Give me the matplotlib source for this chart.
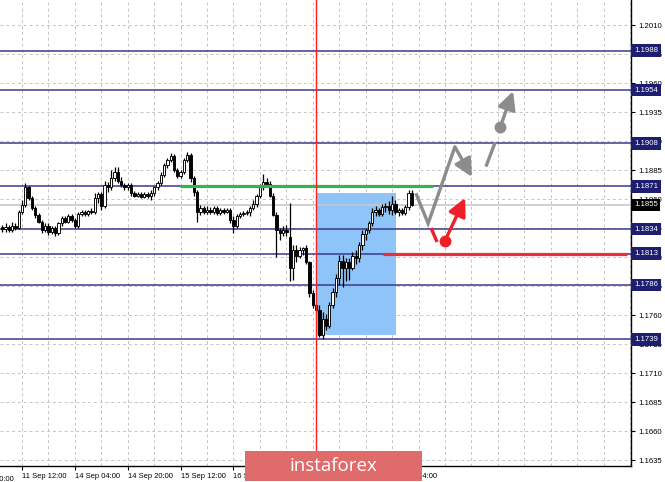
import matplotlib
matplotlib.use("Agg")
import matplotlib.pyplot as plt
from matplotlib.patches import Rectangle
import numpy as np

# ---------------- data ----------------
opens = [1.1836, 1.1834, 1.1836, 1.1833, 1.1837, 1.1835, 1.1849, 1.1855, 1.1870, 1.1861,
         1.1852, 1.1846, 1.1840, 1.1833, 1.1837, 1.1832, 1.1835, 1.1831, 1.1839, 1.1844,
         1.1840, 1.1845, 1.1842, 1.1837, 1.1847, 1.1849, 1.1847, 1.1850, 1.1849, 1.1861,
         1.1864, 1.1854, 1.1872, 1.1870, 1.1878, 1.1883, 1.1876, 1.1872, 1.1870, 1.1872,
         1.1865, 1.1863, 1.1864, 1.1862, 1.1864, 1.1863, 1.1865, 1.1870, 1.1874, 1.1881,
         1.1889, 1.1894, 1.1897, 1.1885, 1.1880, 1.1883, 1.1894, 1.1898, 1.1878, 1.1866,
         1.1849, 1.1852, 1.1849, 1.1851, 1.1849, 1.1852, 1.1848, 1.1851, 1.1849, 1.1851,
         1.1842, 1.1837, 1.1845, 1.1847, 1.1848, 1.1849, 1.1852, 1.1856, 1.1863, 1.1871,
         1.1875, 1.1873, 1.1863, 1.1846, 1.1833, 1.1831, 1.1833, 1.1827, 1.1801, 1.1816,
         1.1811, 1.1816, 1.1818, 1.1806, 1.1779, 1.1769, 1.1764, 1.1743, 1.1757, 1.1751,
         1.1769, 1.1780, 1.1792, 1.1807, 1.1801, 1.1806, 1.1801, 1.1811, 1.1809, 1.1820,
         1.1830, 1.1833, 1.1839, 1.1849, 1.1851, 1.1847, 1.1853, 1.1854, 1.1851, 1.1856,
         1.1849, 1.1851, 1.1848, 1.1853, 1.1865]
highs = [1.1838, 1.1839, 1.1838, 1.1840, 1.1839, 1.1851, 1.1859, 1.1874, 1.1871, 1.1863,
         1.1854, 1.1848, 1.1842, 1.1839, 1.1839, 1.1837, 1.1837, 1.1840, 1.1845, 1.1845,
         1.1847, 1.1847, 1.1844, 1.1849, 1.1851, 1.1851, 1.1851, 1.1852, 1.1865, 1.1866,
         1.1866, 1.1876, 1.1875, 1.1885, 1.1888, 1.1888, 1.1879, 1.1874, 1.1874, 1.1874,
         1.1867, 1.1866, 1.1866, 1.1866, 1.1866, 1.1868, 1.1871, 1.1876, 1.1883, 1.1891,
         1.1895, 1.1900, 1.1899, 1.1887, 1.1885, 1.1895, 1.1901, 1.1900, 1.1880, 1.1868,
         1.1855, 1.1854, 1.1854, 1.1853, 1.1854, 1.1854, 1.1852, 1.1852, 1.1852, 1.1852,
         1.1845, 1.1847, 1.1849, 1.1850, 1.1851, 1.1854, 1.1859, 1.1864, 1.1873, 1.1882,
         1.1878, 1.1876, 1.1865, 1.1849, 1.1835, 1.1837, 1.1838, 1.1857, 1.1820, 1.1820,
         1.1819, 1.1819, 1.1820, 1.1807, 1.1782, 1.1770, 1.1769, 1.1763, 1.1761, 1.1771,
         1.1783, 1.1795, 1.1812, 1.1812, 1.1809, 1.1809, 1.1814, 1.1816, 1.1823, 1.1833,
         1.1835, 1.1841, 1.1852, 1.1854, 1.1852, 1.1856, 1.1857, 1.1858, 1.1863, 1.1859,
         1.1852, 1.1852, 1.1855, 1.1868, 1.1868]
lows = [1.1832, 1.1832, 1.1832, 1.1832, 1.1833, 1.1834, 1.1847, 1.1853, 1.1859, 1.1851,
        1.1844, 1.1839, 1.1831, 1.1832, 1.1829, 1.1830, 1.1828, 1.1829, 1.1837, 1.1839,
        1.1839, 1.1840, 1.1835, 1.1835, 1.1845, 1.1845, 1.1845, 1.1847, 1.1847, 1.1857,
        1.1851, 1.1852, 1.1866, 1.1868, 1.1876, 1.1874, 1.1870, 1.1868, 1.1868, 1.1863,
        1.1862, 1.1862, 1.1861, 1.1861, 1.1861, 1.1859, 1.1863, 1.1868, 1.1872, 1.1879,
        1.1887, 1.1892, 1.1883, 1.1878, 1.1878, 1.1882, 1.1892, 1.1875, 1.1863, 1.1840,
        1.1846, 1.1847, 1.1847, 1.1847, 1.1847, 1.1846, 1.1846, 1.1847, 1.1848, 1.1839,
        1.1831, 1.1835, 1.1844, 1.1845, 1.1846, 1.1845, 1.1851, 1.1853, 1.1861, 1.1868,
        1.1870, 1.1862, 1.1845, 1.1810, 1.1825, 1.1828, 1.1828, 1.1789, 1.1790, 1.1806,
        1.1809, 1.1812, 1.1804, 1.1776, 1.1766, 1.1762, 1.1741, 1.1739, 1.1747, 1.1749,
        1.1766, 1.1776, 1.1786, 1.1784, 1.1789, 1.1790, 1.1799, 1.1804, 1.1806, 1.1816,
        1.1825, 1.1831, 1.1837, 1.1845, 1.1845, 1.1845, 1.1849, 1.1847, 1.1846, 1.1847,
        1.1845, 1.1846, 1.1846, 1.1851, 1.1854]
closes = [1.1834, 1.1836, 1.1833, 1.1837, 1.1835, 1.1849, 1.1855, 1.1870, 1.1861, 1.1852,
          1.1846, 1.1840, 1.1833, 1.1837, 1.1832, 1.1835, 1.1831, 1.1839, 1.1844, 1.1840,
          1.1845, 1.1842, 1.1837, 1.1847, 1.1849, 1.1847, 1.1850, 1.1849, 1.1861, 1.1864,
          1.1854, 1.1872, 1.1870, 1.1878, 1.1883, 1.1876, 1.1872, 1.1870, 1.1872, 1.1865,
          1.1863, 1.1864, 1.1862, 1.1864, 1.1863, 1.1865, 1.1870, 1.1874, 1.1881, 1.1889,
          1.1894, 1.1897, 1.1885, 1.1880, 1.1883, 1.1894, 1.1898, 1.1878, 1.1866, 1.1849,
          1.1852, 1.1849, 1.1851, 1.1849, 1.1852, 1.1848, 1.1851, 1.1849, 1.1851, 1.1842,
          1.1837, 1.1845, 1.1847, 1.1848, 1.1849, 1.1852, 1.1856, 1.1863, 1.1871, 1.1875,
          1.1873, 1.1863, 1.1846, 1.1833, 1.1831, 1.1833, 1.1832, 1.1801, 1.1816, 1.1811,
          1.1816, 1.1818, 1.1806, 1.1779, 1.1769, 1.1764, 1.1743, 1.1757, 1.1751, 1.1769,
          1.1780, 1.1792, 1.1807, 1.1801, 1.1806, 1.1801, 1.1811, 1.1809, 1.1820, 1.1830,
          1.1833, 1.1839, 1.1849, 1.1851, 1.1847, 1.1853, 1.1854, 1.1851, 1.1856, 1.1849,
          1.1851, 1.1848, 1.1853, 1.1865, 1.1855]

level_prices = [1.1988, 1.1954, 1.1908, 1.1871, 1.1834, 1.1813, 1.1786, 1.1739]
level_labels = ["1.1988", "1.1954", "1.1908", "1.1871", "1.1834", "1.1813", "1.1786", "1.1739"]
current_price = 1.1855
current_label = "1.1855"

y_ticks = [1.1635, 1.1660, 1.1685, 1.1710, 1.1735, 1.1760, 1.1785, 1.1810, 1.1835,
           1.1860, 1.1885, 1.1910, 1.1935, 1.1960, 1.1985, 1.2010]
y_tick_labels = ["1.1635", "1.1660", "1.1685", "1.1710", "1.1735", "1.1760", "1.1785", "1.1810",
                 "1.1835", "1.1860", "1.1885", "1.1910", "1.1935", "1.1960", "1.1985", "1.2010"]

time_label_bars = [-10, 6, 22, 38, 54, 70, 86, 102, 118]
time_labels = ["10 Sep 20:00", "11 Sep 12:00", "14 Sep 04:00", "14 Sep 20:00", "15 Sep 12:00",
               "16 Sep 04:00", "16 Sep 20:00", "17 Sep 12:00", "18 Sep 04:00"]

# markup objects (bar index, price)
green_line_bars = [53.8, 130.4]
green_line_price = 1.1871
red_line_bars = [115.2, 189.1]
red_line_price = 1.1813
box_bars = [95.0, 119.2]
box_prices = [1.1743, 1.1865]
vline_bar = 95.0

gray_path_bars = [125.2, 128.9, 137.0, 142.2]
gray_path_prices = [1.1865, 1.1839, 1.1905, 1.1879]
gray_seg_bars = [146.4, 149.2]
gray_seg_prices = [1.1888, 1.1909]
gray_dot = (150.7, 1.1922)
gray_tip = (154.6, 1.1953)

red_seg_bars = [129.8, 131.6]
red_seg_prices = [1.1835, 1.1823]
red_dot = (134.0, 1.1824)
red_tip = (140.1, 1.1861)

# ---------------- figure ----------------
W, H = 665, 482
fig = plt.figure(figsize=(W / 100, H / 100), dpi=100)
fig.patch.set_facecolor("white")
ax = fig.add_axes([0, 16 / H, 631 / W, 466 / H])
ax.set_xlim(-0.666, 190.3)
ax.set_ylim(1.16299, 1.20316)

for s in ["left", "top"]:
    ax.spines[s].set_visible(False)
ax.spines["right"].set_linewidth(1.0)
ax.spines["bottom"].set_linewidth(1.0)

# grid
grid_col = "#c4c4c4"
for yv in y_ticks:
    ax.axhline(yv, color=grid_col, lw=0.7, ls=(0, (3, 3)), zorder=0)
for xv in np.arange(6, 191, 8):
    ax.axvline(xv, color=grid_col, lw=0.7, ls=(0, (3, 3)), zorder=0)

# blue box
ax.add_patch(Rectangle((box_bars[0], box_prices[0]), box_bars[1] - box_bars[0],
                       box_prices[1] - box_prices[0], facecolor="#8fc4f8",
                       edgecolor="none", zorder=1))

# current price line
ax.axhline(current_price, color="#c8c8c8", lw=1.2, zorder=1.5)

# level lines
for p in level_prices:
    ax.axhline(p, color="#3a3a8e", lw=1.1, zorder=2)

# candles
bw = 0.7
for i, (o, h, l, c) in enumerate(zip(opens, highs, lows, closes)):
    ax.plot([i, i], [l, h], color="black", lw=0.9, zorder=3, solid_capstyle="butt")
    lo, hi = min(o, c), max(o, c)
    if hi - lo < 0.00005:
        hi = lo + 0.00005
    fc = "white" if c >= o else "black"
    ax.add_patch(Rectangle((i - bw / 2, lo), bw, hi - lo, facecolor=fc,
                           edgecolor="black", lw=0.65, zorder=3.1))

# green & red horizontal segments
ax.plot(green_line_bars, [green_line_price] * 2, color="#35b548", lw=2.3, zorder=4,
        solid_capstyle="butt")
ax.plot(red_line_bars, [red_line_price] * 2, color="#e8303a", lw=2.3, zorder=4,
        solid_capstyle="butt")

# vertical red line
ax.axvline(vline_bar, color="#ff2020", lw=1.0, zorder=5)

# arrows
gray = "#8c8c8c"
ax.plot(gray_path_bars[:-1], gray_path_prices[:-1], color=gray, lw=2.4, zorder=4,
        solid_capstyle="butt", solid_joinstyle="miter")
ax.annotate("", xy=(gray_path_bars[-1], gray_path_prices[-1]),
            xytext=(gray_path_bars[-2], gray_path_prices[-2]),
            arrowprops=dict(arrowstyle="-|>,head_length=0.9,head_width=0.45", color=gray,
                            lw=2.4, mutation_scale=12, shrinkA=0, shrinkB=0), zorder=4)
ax.plot(gray_seg_bars, gray_seg_prices, color=gray, lw=2.4, zorder=4, solid_capstyle="butt")
ax.plot([gray_dot[0]], [gray_dot[1]], "o", color=gray, ms=7.5, zorder=4)
ax.annotate("", xy=gray_tip, xytext=gray_dot,
            arrowprops=dict(arrowstyle="-|>,head_length=0.9,head_width=0.45", color=gray,
                            lw=2.4, mutation_scale=12, shrinkA=0, shrinkB=0), zorder=4)

red = "#f01e28"
ax.plot(red_seg_bars, red_seg_prices, color=red, lw=2.4, zorder=4, solid_capstyle="butt")
ax.plot([red_dot[0]], [red_dot[1]], "o", color=red, ms=7.5, zorder=4)
ax.annotate("", xy=red_tip, xytext=red_dot,
            arrowprops=dict(arrowstyle="-|>,head_length=0.9,head_width=0.45", color=red,
                            lw=2.4, mutation_scale=12, shrinkA=0, shrinkB=0), zorder=4)

# y axis (right)
font = "Liberation Sans"
ax.yaxis.tick_right()
ax.set_yticks(y_ticks)
ax.set_yticklabels(y_tick_labels, fontsize=5.6, family=font)
ax.tick_params(axis="y", length=3, width=0.8, pad=2, direction="out")

for p, lab in zip(level_prices, level_labels):
    ax.text(634 / 631, p, lab, transform=ax.get_yaxis_transform(), ha="left", va="center",
            fontsize=5.6, family=font, color="white", clip_on=False, zorder=6,
            bbox=dict(boxstyle="square,pad=0.35", fc="#1e1e70", ec="none"))
ax.text(634 / 631, current_price, current_label, transform=ax.get_yaxis_transform(),
        ha="left", va="center", fontsize=5.6, family=font, color="white", clip_on=False,
        zorder=6, bbox=dict(boxstyle="square,pad=0.35", fc="black", ec="none"))

# x axis
vis = [(b, t) for b, t in zip(time_label_bars, time_labels) if b >= 0]
ax.set_xticks([b for b, _ in vis])
ax.set_xticklabels([t for _, t in vis], fontsize=5.4, family=font, ha="left")
ax.tick_params(axis="x", length=3, width=0.8, pad=2, direction="out")
for b, t in zip(time_label_bars, time_labels):
    if b < 0:
        ax.text(b, -0.022, t, transform=ax.get_xaxis_transform(), ha="left", va="top",
                fontsize=5.4, family=font, clip_on=False)

# instaforex badge
fig.patches.append(Rectangle((245 / W, 1 / H), 177 / W, 30 / H, transform=fig.transFigure,
                             facecolor="#e06b6b", edgecolor="none", zorder=10))
fig.text(333.5 / W, 16 / H, "instaforex", ha="center", va="center", color="white",
         fontsize=13.5, family="Open Sans", zorder=11)

fig.savefig("out.png", dpi=100, facecolor="white")
